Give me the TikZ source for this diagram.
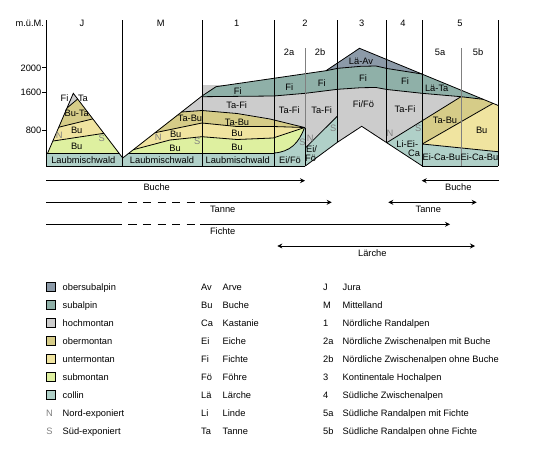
\documentclass[tikz,border=0pt]{standalone}
\usepackage{fontspec}
\setmainfont{Liberation Sans}
\usetikzlibrary{arrows.meta}
\definecolor{obsub}{RGB}{140,154,168}
\definecolor{subalp}{RGB}{143,176,168}
\definecolor{hochm}{RGB}{204,204,204}
\definecolor{oberm}{RGB}{214,204,136}
\definecolor{unterm}{RGB}{240,228,160}
\definecolor{subm}{RGB}{222,240,160}
\definecolor{coll}{RGB}{176,208,200}
\definecolor{expogray}{RGB}{128,128,128}
\begin{document}
\begin{tikzpicture}[x=1pt,y=-1pt,>={Stealth[length=5pt,width=5pt]},line width=0.8pt,
  lbl/.style={inner sep=0pt,text height=6.7pt,text depth=0pt,font=\fontsize{9.3}{11}\selectfont},
  expo/.style={lbl,text=expogray},
  legbox/.style={draw,minimum size=9pt,inner sep=0pt},
  divider/.style={draw=expogray},
  gapline/.style={dash pattern=on 8.3pt off 6.3pt}]
\useasboundingbox (0,0) rectangle (540,450);

\begin{scope}
\clip (47.7,153) -- (73.3,93.3) -- (119,153) -- cycle;
\fill[hochm] (40,80) rectangle (130,160);
\fill[oberm] (40,130.7) -- (125,59.2) -- (125,160) -- (40,160) -- cycle;
\fill[unterm] (40,131.8) -- (125,111.0) -- (125,160) -- (40,160) -- cycle;
\fill[subm] (40,143.0) -- (125,130.1) -- (125,160) -- (40,160) -- cycle;
\draw (40,130.7) -- (125,59.2);
\draw (40,131.8) -- (125,111.0);
\draw (40,143.0) -- (125,130.1);
\end{scope}
\fill[coll] (46,153) -- (119,153) -- (122.7,158) -- (128.9,153) -- (274,153) -- (274,166) -- (46,166) -- cycle;

\begin{scope}
\clip (128.9,153) -- (202,96) -- (202,85) -- (306,85) -- (306,153) -- cycle;
\fill[subm] (100,80) rectangle (310,160);
\fill[unterm] (110,155.9) -- (133.3,149.7) -- (170,140) -- (202,136.7) -- (237,139.5) -- (273,138) -- (304.5,127.5) -- (310,127.5) -- (310,80) -- (110,80) -- cycle;
\fill[oberm] (120,139.9) -- (155,132.7) -- (202,123) -- (237,126.5) -- (273,126.5) -- (304.5,127.5) -- (310,127.5) -- (310,80) -- (120,80) -- cycle;
\fill[hochm] (150,114.4) -- (181.5,112) -- (202,110.5) -- (237,113.5) -- (270,119) -- (304.5,127.5) -- (310,127.5) -- (310,80) -- (150,80) -- cycle;
\end{scope}
\fill[coll] (274,153) .. controls (290,152) and (299,143) .. (304.5,127.5) -- (305.3,127.5) -- (305.3,166) -- (274,166) -- cycle;
\fill[hochm] (305.3,93.3) -- (337.5,89.3) -- (361,87.7) -- (376,87.5) -- (387,89.5) -- (422,93.3) -- (461,96.7) -- (422.3,120.7) -- (386.7,142.7) -- (361.7,126.3) -- (337.5,142.2) -- (337.5,116) -- (305.3,148) -- cycle;
\fill[coll] (305.3,148) -- (337.5,116) -- (337.5,142.2) -- (305.3,166) -- cycle;
\fill[coll] (386.7,142.7) -- (422.3,120.7) -- (422.3,166) -- cycle;
\fill[oberm] (422.3,120.7) -- (461,96.7) -- (483,99.3) -- (493,103.4) -- (422.3,144) -- cycle;
\fill[unterm] (422.3,144) -- (493,103.4) -- (498,105.4) -- (498,151.7) -- cycle;
\fill[coll] (422.3,144) -- (498,151.7) -- (498,166) -- (422.3,166) -- cycle;
\fill[subalp] (202,96.7) -- (202,96) -- (216,86.7) -- (326,70.7) -- (338,68.3) -- (361,66.3) -- (376,66) -- (387,68.5) -- (422,74) -- (483,99.3) -- (461,96.7) -- (422,93.3) -- (387,89.5) -- (376,87.5) -- (361,87.7) -- (337.5,89.3) -- (305.3,93.3) -- (273.7,96) -- cycle;
\fill[obsub] (326,70.7) -- (359.5,48.3) -- (422,74) -- (387,68.5) -- (376,66) -- (361,66.3) -- (338,68.3) -- cycle;

\draw (47.7,153) -- (73.3,93.3) -- (122.7,158) -- (202,96) -- (216,86.7) -- (326,70.7) -- (359.5,48.3) -- (498,105.4);
\draw (326,70.7) -- (338,68.3) -- (361,66.3) -- (376,66) -- (387,68.5) -- (422,74);
\draw (202,96.7) -- (273.7,96) -- (305.3,93.3) -- (337.5,89.3) -- (361,87.7) -- (376,87.5) -- (387,89.5) -- (422,93.3) -- (461,96.7) -- (483,99.3);
\draw (181.5,112) -- (202,110.5) -- (237,113.5) -- (270,119) -- (304.5,127.5);
\draw (155,132.7) -- (202,123) -- (237,126.5) -- (273,126.5) -- (304.5,127.5);
\draw (133.3,149.7) -- (170,140) -- (202,136.7) -- (237,139.5) -- (273,138) -- (304.5,127.5);
\draw (274,153) .. controls (290,152) and (299,143) .. (304.5,127.5);
\draw (46,153) -- (119,153);
\draw (128.9,153) -- (274,153);
\draw (46,166) -- (305.3,166);
\draw (422.3,166) -- (498,166);
\draw (305.3,148) -- (337.5,116);
\draw (305.3,166) -- (337.5,142.2) -- (361.7,126.3) -- (386.7,142.7) -- (422.3,166);
\draw (386.7,142.7) -- (422.3,120.7) -- (461,96.7);
\draw (422.3,144) -- (493,103.4);
\draw (422.3,144) -- (498,151.7);

\draw[divider] (305.3,48) -- (305.3,127.5);
\draw[divider] (461,48) -- (461,166);
\draw (305.3,127.5) -- (305.3,166);
\draw (46,20) -- (46,166);
\draw (122.7,20) -- (122.7,166);
\draw (202,20) -- (202,166);
\draw (274,20) -- (274,166);
\draw (337.5,20) -- (337.5,142.2);
\draw (386.7,20) -- (386.7,142.7);
\draw (422.3,20) -- (422.3,166);
\draw (498,20) -- (498,166);
\draw (42.3,67.7) -- (46,67.7);
\draw (42.3,92.3) -- (46,92.3);
\draw (42.3,130) -- (46,130);

\node[lbl] (unit) at (29.8,23.5) {m.ü.M.};
\node[lbl,anchor=east] (h2000) at (41.7,67.7) {2000};
\node[lbl,anchor=east] (h1600) at (41.7,92.3) {1600};
\node[lbl,anchor=east] (h800) at (41.7,130) {800};
\node[lbl] (colJ) at (82,23.5) {J};
\node[lbl] (colM) at (160.7,23.5) {M};
\node[lbl] (col1) at (236.7,23.5) {1};
\node[lbl] (col2) at (305,23.5) {2};
\node[lbl] (col3) at (361.7,23.5) {3};
\node[lbl] (col4) at (403,23.5) {4};
\node[lbl] (col5) at (460,23.5) {5};
\node[lbl] (col2a) at (289,52) {2a};
\node[lbl] (col2b) at (320,52) {2b};
\node[lbl] (col5a) at (440,52) {5a};
\node[lbl] (col5b) at (478,52) {5b};

\node[lbl] (jFi) at (64.5,97.7) {Fi};
\node[lbl] (jTa) at (83,97.7) {Ta};
\node[lbl] (jBuTa) at (76.7,113.3) {Bu-Ta};
\node[lbl] (jBu) at (76.7,130) {Bu};
\node[expo] (jN) at (59.3,135) {N};
\node[expo] (jS) at (101.7,137.7) {S};
\node[lbl] (jBu2) at (76.7,145.7) {Bu};
\node[lbl] (jLmw) at (83.3,160.3) {Laubmischwald};

\node[lbl] (mTaBu) at (190,118.5) {Ta-Bu};
\node[expo] (mN) at (158.3,137.3) {N};
\node[lbl] (mBu) at (175.7,134) {Bu};
\node[expo] (mS) at (197.3,141) {S};
\node[lbl] (mBu2) at (175,147.7) {Bu};
\node[lbl] (mLmw) at (162,160.3) {Laubmischwald};

\node[lbl] (aFi) at (237.7,91.2) {Fi};
\node[lbl] (aTaFi) at (236.7,105) {Ta-Fi};
\node[lbl] (aTaBu) at (237,122.2) {Ta-Bu};
\node[lbl] (aBu) at (237,133.3) {Bu};
\node[lbl] (aBu2) at (237,147) {Bu};
\node[lbl] (aLmw) at (237.7,160.3) {Laubmischwald};

\node[lbl] (bFi) at (289.3,86.7) {Fi};
\node[lbl] (bTaFi) at (289.3,110) {Ta-Fi};
\node[expo] (bS) at (302.5,141.7) {S};
\node[lbl] (bEiFo) at (290,160.3) {Ei/Fö};
\node[lbl] (cFi) at (321.7,82.7) {Fi};
\node[lbl] (cTaFi) at (321.7,110) {Ta-Fi};
\node[expo] (cN) at (310.3,138.6) {N};
\node[expo] (cS) at (333.3,128.3) {S};
\node[lbl] (cEi) at (311.5,149.2) {Ei/};
\node[lbl] (cFo) at (310.5,157.8) {Fö};

\node[lbl] (dLaAv) at (361,61) {Lä-Av};
\node[lbl] (dFi) at (363,78.5) {Fi};
\node[lbl] (dFiFo) at (363.5,104.5) {Fi/Fö};

\node[lbl] (eFi) at (405,81) {Fi};
\node[lbl] (eTaFi) at (405,109.3) {Ta-Fi};
\node[expo] (eN) at (390,133.3) {N};
\node[expo] (eS) at (418.3,128.3) {S};
\node[lbl] (eLiEi) at (407.3,144) {Li-Ei-};
\node[lbl] (eCa) at (414,152.7) {Ca};

\node[lbl] (fLaTa) at (436.7,88.3) {Lä-Ta};
\node[lbl] (fTaBu) at (445,120) {Ta-Bu};
\node[lbl] (fBu) at (481.7,130) {Bu};
\node[lbl] (fEiCaBu) at (441.5,157) {Ei-Ca-Bu};
\node[lbl] (gEiCaBu) at (479.5,157) {Ei-Ca-Bu};

\coordinate (buA) at (46,180.7);
\coordinate (buB) at (305,180.7);
\coordinate (buC) at (499,180.7);
\coordinate (buD) at (421.7,180.7);
\draw[->] (buA) -- (buB);
\draw[->] (buC) -- (buD);
\node[lbl] (buche1) at (156.7,187) {Buche};
\node[lbl] (buche2) at (458.3,187) {Buche};

\coordinate (taA) at (46,202.3);
\coordinate (taB) at (121.7,202.3);
\coordinate (taC) at (128.3,202.3);
\coordinate (taD) at (195,202.3);
\coordinate (taE) at (200,202.3);
\coordinate (taF) at (331.7,202.3);
\coordinate (taG) at (388.3,202.3);
\coordinate (taH) at (476.7,202.3);
\draw (taA) -- (taB);
\draw[gapline] (taC) -- (taD);
\draw[->] (taE) -- (taF);
\draw[<->] (taG) -- (taH);
\node[lbl] (tanne1) at (222.7,208.7) {Tanne};
\node[lbl] (tanne2) at (428.3,208.7) {Tanne};

\coordinate (fiA) at (46,224.3);
\coordinate (fiB) at (121.7,224.3);
\coordinate (fiC) at (128.3,224.3);
\coordinate (fiD) at (195,224.3);
\coordinate (fiE) at (200,224.3);
\coordinate (fiF) at (450,224.3);
\draw (fiA) -- (fiB);
\draw[gapline] (fiC) -- (fiD);
\draw[->] (fiE) -- (fiF);
\node[lbl] (fichte) at (222.7,230.7) {Fichte};

\coordinate (laA) at (277.3,246);
\coordinate (laB) at (475,246);
\draw[<->] (laA) -- (laB);
\node[lbl] (laerche) at (372.3,253.3) {Lärche};

\node[legbox,fill=obsub] (k1) at (50.5,286.7) {};
\node[legbox,fill=subalp] (k2) at (50.5,304.7) {};
\node[legbox,fill=hochm] (k3) at (50.5,322.7) {};
\node[legbox,fill=oberm] (k4) at (50.5,340.7) {};
\node[legbox,fill=unterm] (k5) at (50.5,358.7) {};
\node[legbox,fill=subm] (k6) at (50.5,376.7) {};
\node[legbox,fill=coll] (k7) at (50.5,394.7) {};
\node[expo] (k8) at (49.5,412.7) {N};
\node[expo] (k9) at (49.5,430.7) {S};
\node[lbl,anchor=west] (t1) at (62.3,286.7) {obersubalpin};
\node[lbl,anchor=west] (t2) at (62.3,304.7) {subalpin};
\node[lbl,anchor=west] (t3) at (62.3,322.7) {hochmontan};
\node[lbl,anchor=west] (t4) at (62.3,340.7) {obermontan};
\node[lbl,anchor=west] (t5) at (62.3,358.7) {untermontan};
\node[lbl,anchor=west] (t6) at (62.3,376.7) {submontan};
\node[lbl,anchor=west] (t7) at (62.3,394.7) {collin};
\node[lbl,anchor=west] (t8) at (62.3,412.7) {Nord-exponiert};
\node[lbl,anchor=west] (t9) at (62.3,430.7) {Süd-exponiert};

\node[lbl,anchor=west] (a1) at (200.7,286.7) {Av};
\node[lbl,anchor=west] (a2) at (200.7,304.7) {Bu};
\node[lbl,anchor=west] (a3) at (200.7,322.7) {Ca};
\node[lbl,anchor=west] (a4) at (200.7,340.7) {Ei};
\node[lbl,anchor=west] (a5) at (200.7,358.7) {Fi};
\node[lbl,anchor=west] (a6) at (200.7,376.7) {Fö};
\node[lbl,anchor=west] (a7) at (200.7,394.7) {Lä};
\node[lbl,anchor=west] (a8) at (200.7,412.7) {Li};
\node[lbl,anchor=west] (a9) at (200.7,430.7) {Ta};
\node[lbl,anchor=west] (n1) at (222.3,286.7) {Arve};
\node[lbl,anchor=west] (n2) at (222.3,304.7) {Buche};
\node[lbl,anchor=west] (n3) at (222.3,322.7) {Kastanie};
\node[lbl,anchor=west] (n4) at (222.3,340.7) {Eiche};
\node[lbl,anchor=west] (n5) at (222.3,358.7) {Fichte};
\node[lbl,anchor=west] (n6) at (222.3,376.7) {Föhre};
\node[lbl,anchor=west] (n7) at (222.3,394.7) {Lärche};
\node[lbl,anchor=west] (n8) at (222.3,412.7) {Linde};
\node[lbl,anchor=west] (n9) at (222.3,430.7) {Tanne};

\node[lbl,anchor=west] (r1) at (322.7,286.7) {J};
\node[lbl,anchor=west] (r2) at (322.7,304.7) {M};
\node[lbl,anchor=west] (r3) at (322.7,322.7) {1};
\node[lbl,anchor=west] (r4) at (322.7,340.7) {2a};
\node[lbl,anchor=west] (r5) at (322.7,358.7) {2b};
\node[lbl,anchor=west] (r6) at (322.7,376.7) {3};
\node[lbl,anchor=west] (r7) at (322.7,394.7) {4};
\node[lbl,anchor=west] (r8) at (322.7,412.7) {5a};
\node[lbl,anchor=west] (r9) at (322.7,430.7) {5b};
\node[lbl,anchor=west] (s1) at (342.3,286.7) {Jura};
\node[lbl,anchor=west] (s2) at (342.3,304.7) {Mittelland};
\node[lbl,anchor=west] (s3) at (342.3,322.7) {Nördliche Randalpen};
\node[lbl,anchor=west] (s4) at (342.3,340.7) {Nördliche Zwischenalpen mit Buche};
\node[lbl,anchor=west] (s5) at (342.3,358.7) {Nördliche Zwischenalpen ohne Buche};
\node[lbl,anchor=west] (s6) at (342.3,376.7) {Kontinentale Hochalpen};
\node[lbl,anchor=west] (s7) at (342.3,394.7) {Südliche Zwischenalpen};
\node[lbl,anchor=west] (s8) at (342.3,412.7) {Südliche Randalpen mit Fichte};
\node[lbl,anchor=west] (s9) at (342.3,430.7) {Südliche Randalpen ohne Fichte};
\end{tikzpicture}
\end{document}
